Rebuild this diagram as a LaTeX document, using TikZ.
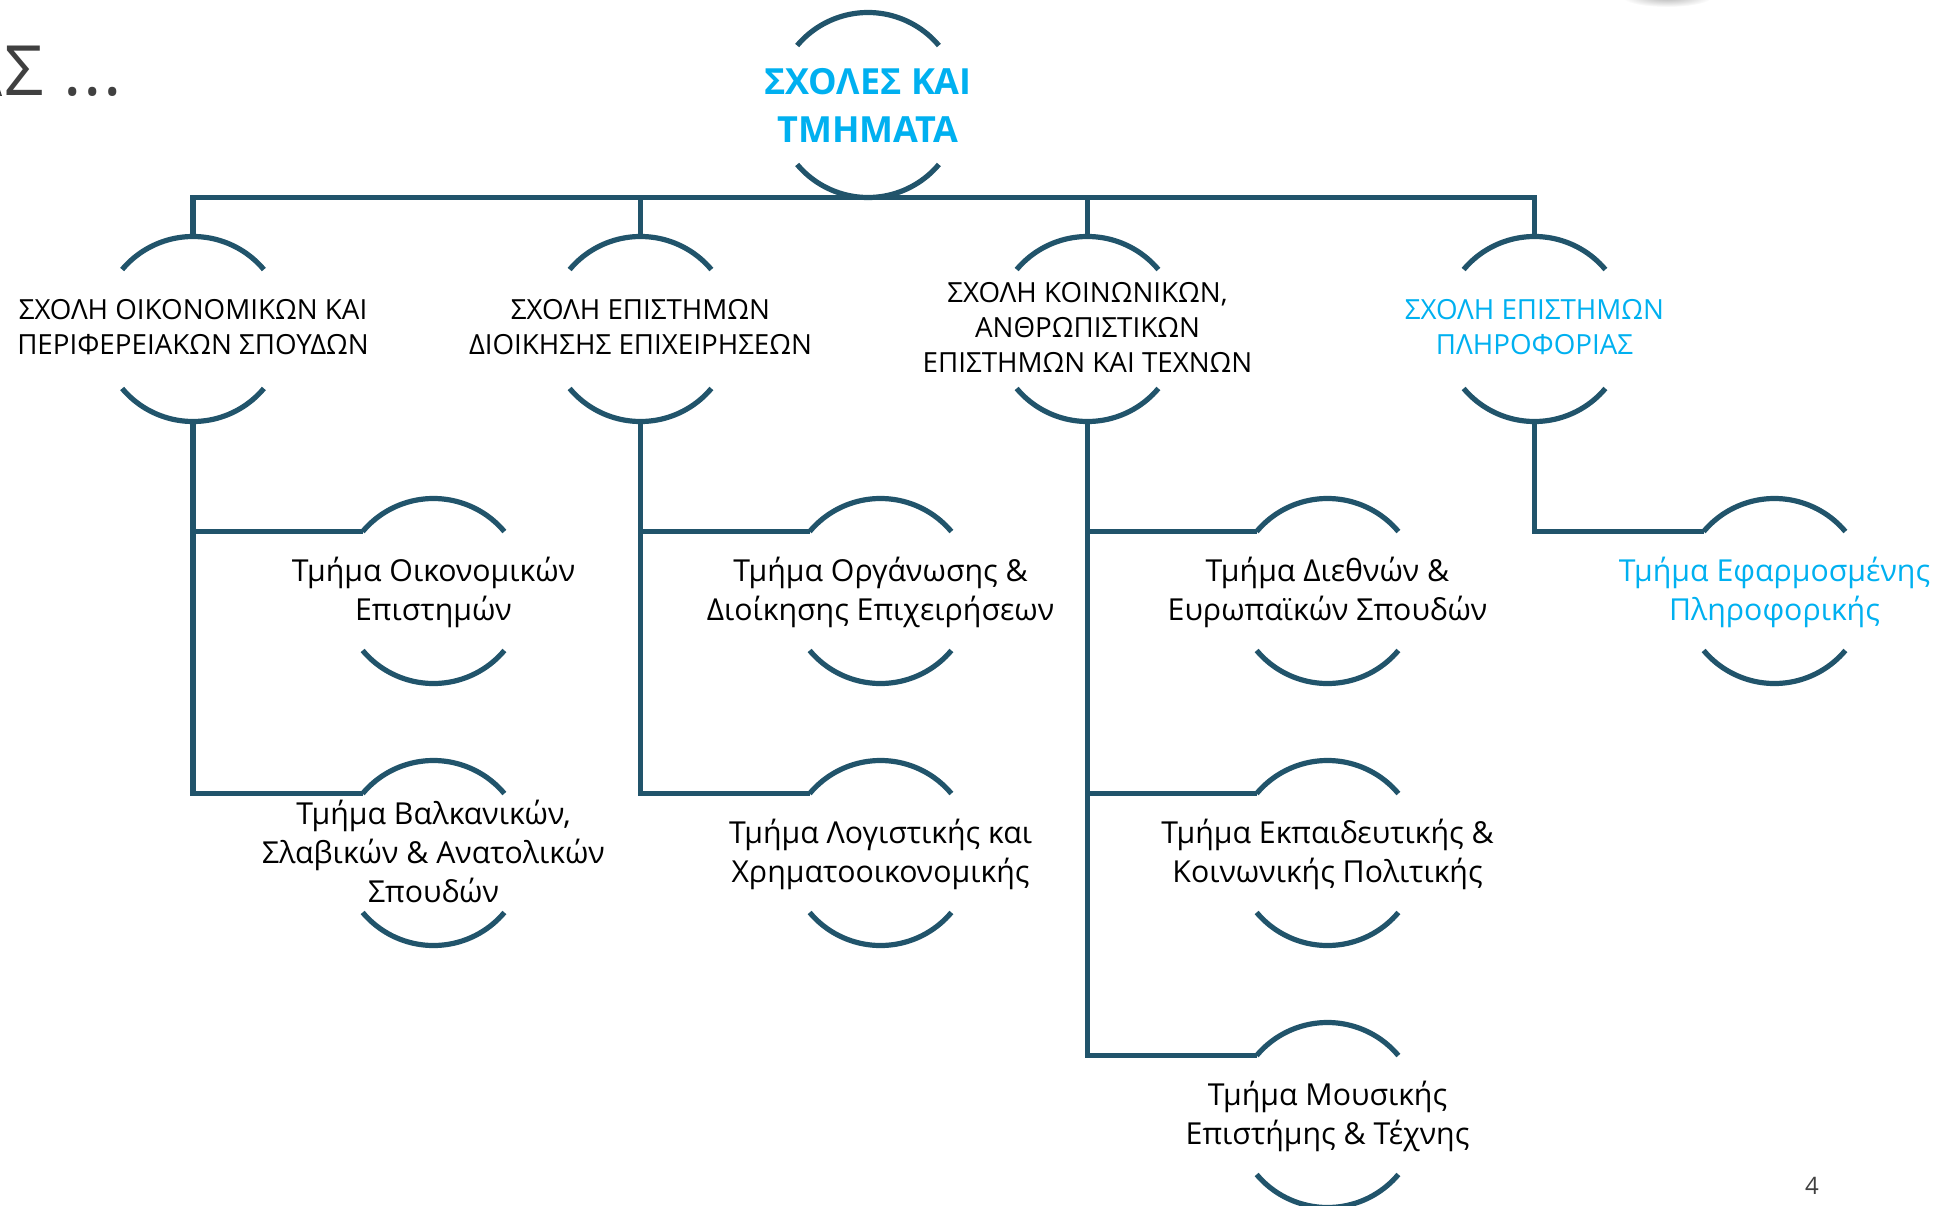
\documentclass[tikz,border=0pt]{standalone}
\usepackage{fontspec}
\setmainfont{Open Sans}
\definecolor{linedark}{RGB}{33,84,107}
\definecolor{skycyan}{RGB}{0,176,240}
\definecolor{titlegray}{RGB}{64,64,64}
\tikzset{every picture/.style={line width=0.75pt},
	hub/.style={circle,minimum size=138.75pt,inner sep=0pt,outer sep=0pt},
	conn/.style={draw=linedark,line width=3.9pt},
	rootlabel/.style={align=center,text=skycyan,font=\fontsize{27}{36}\selectfont\bfseries},
	schoollabel/.style={align=center,yshift=1.4pt,font=\fontsize{20.8}{26.25}\selectfont},
	deptlabel/.style={align=center,yshift=-1.3pt,font=\fontsize{22.7}{29.2}\selectfont}
}
\newcommand{\hubarcs}[1]{%
	\draw[conn] (#1.140) arc[start angle=220,end angle=320,radius=92.5];
	\draw[conn] (#1.220) arc[start angle=140,end angle=40,radius=92.5];
}
\begin{document}
\begin{tikzpicture}[x=0.75pt,y=0.75pt,yscale=-1,xscale=1]
	\useasboundingbox (0,0) rectangle (1942,1206);
	\begin{scope}
		\clip (0,0) rectangle (1942,1206);

		%Smudge at the top edge
		\shade[inner color=black!30,outer color=white] (1667,-3) ellipse (45 and 10);

		%Hubs: root
		\node[hub] (root) at (868,105) {};
		\node[rootlabel] (rootTxt) at (root) {ΣΧΟΛΕΣ ΚΑΙ\\ΤΜΗΜΑΤΑ};

		%Hubs: schools
		\node[hub] (schoolA) at (193,329) {};
		\node[schoollabel] (schoolATxt) at (schoolA) {ΣΧΟΛΗ ΟΙΚΟΝΟΜΙΚΩΝ ΚΑΙ\\ΠΕΡΙΦΕΡΕΙΑΚΩΝ ΣΠΟΥΔΩΝ};
		\node[hub] (schoolB) at (640.5,329) {};
		\node[schoollabel] (schoolBTxt) at (schoolB) {ΣΧΟΛΗ ΕΠΙΣΤΗΜΩΝ\\ΔΙΟΙΚΗΣΗΣ ΕΠΙΧΕΙΡΗΣΕΩΝ};
		\node[hub] (schoolC) at (1087.5,329) {};
		\node[schoollabel] (schoolCTxt) at (schoolC) {ΣΧΟΛΗ ΚΟΙΝΩΝΙΚΩΝ,\\ΑΝΘΡΩΠΙΣΤΙΚΩΝ\\ΕΠΙΣΤΗΜΩΝ ΚΑΙ ΤΕΧΝΩΝ};
		\node[hub] (schoolD) at (1534.5,329) {};
		\node[schoollabel,text=skycyan] (schoolDTxt) at (schoolD) {ΣΧΟΛΗ ΕΠΙΣΤΗΜΩΝ\\ΠΛΗΡΟΦΟΡΙΑΣ};

		%Hubs: departments
		\node[hub] (deptAa) at (433.5,591) {};
		\node[deptlabel] (deptAaTxt) at (deptAa) {Τμήμα Οικονομικών\\Επιστημών};
		\node[hub] (deptAb) at (433.5,853) {};
		\node[deptlabel,yshift=2.2pt] (deptAbTxt) at (deptAb) {Τμήμα Βαλκανικών,\\Σλαβικών \& Ανατολικών\\Σπουδών};
		\node[hub] (deptBa) at (880.5,591) {};
		\node[deptlabel] (deptBaTxt) at (deptBa) {Τμήμα Οργάνωσης \&\\Διοίκησης Επιχειρήσεων};
		\node[hub] (deptBb) at (880.5,853) {};
		\node[deptlabel] (deptBbTxt) at (deptBb) {Τμήμα Λογιστικής και\\Χρηματοοικονομικής};
		\node[hub] (deptCa) at (1327.5,591) {};
		\node[deptlabel] (deptCaTxt) at (deptCa) {Τμήμα Διεθνών \&\\Ευρωπαϊκών Σπουδών};
		\node[hub] (deptCb) at (1327.5,853) {};
		\node[deptlabel] (deptCbTxt) at (deptCb) {Τμήμα Εκπαιδευτικής \&\\Κοινωνικής Πολιτικής};
		\node[hub] (deptCc) at (1327.5,1115) {};
		\node[deptlabel] (deptCcTxt) at (deptCc) {Τμήμα Μουσικής\\Επιστήμης \& Τέχνης};
		\node[hub] (deptDa) at (1774.5,591) {};
		\node[deptlabel,text=skycyan] (deptDaTxt) at (deptDa) {Τμήμα Εφαρμοσμένης\\Πληροφορικής};

		%Arcs of every hub
		\foreach \hubname in {root,schoolA,schoolB,schoolC,schoolD,deptAa,deptAb,deptBa,deptBb,deptCa,deptCb,deptCc,deptDa}
			{\hubarcs{\hubname}}

		%Connectors: root to schools
		\draw[conn] (schoolA.north) |- (root.south);
		\draw[conn] (schoolB.north) |- (root.south);
		\draw[conn] (schoolC.north) |- (root.south);
		\draw[conn] (schoolD.north) |- (root.south);

		%Connectors: schools to departments
		\draw[conn] (schoolA.south) |- (deptAa.140);
		\draw[conn] (schoolA.south) |- (deptAb.140);
		\draw[conn] (schoolB.south) |- (deptBa.140);
		\draw[conn] (schoolB.south) |- (deptBb.140);
		\draw[conn] (schoolC.south) |- (deptCa.140);
		\draw[conn] (schoolC.south) |- (deptCb.140);
		\draw[conn] (schoolC.south) |- (deptCc.140);
		\draw[conn] (schoolD.south) |- (deptDa.140);

		%Cut-off title and page number
		\fill[titlegray] (0,90) -- (2,96) -- (0,96) -- cycle;
		\node[anchor=base west,inner sep=0pt,text=titlegray,font=\fontsize{52}{60}\selectfont\addfontfeature{LetterSpace=2.5}] (titleTxt) at (4,96) {Σ ...};
		\node[anchor=center,inner sep=0pt,text=titlegray,font=\fontsize{18}{20}\selectfont] (pageTxt) at (1812,1186) {4};
	\end{scope}
\end{tikzpicture}
\end{document}
